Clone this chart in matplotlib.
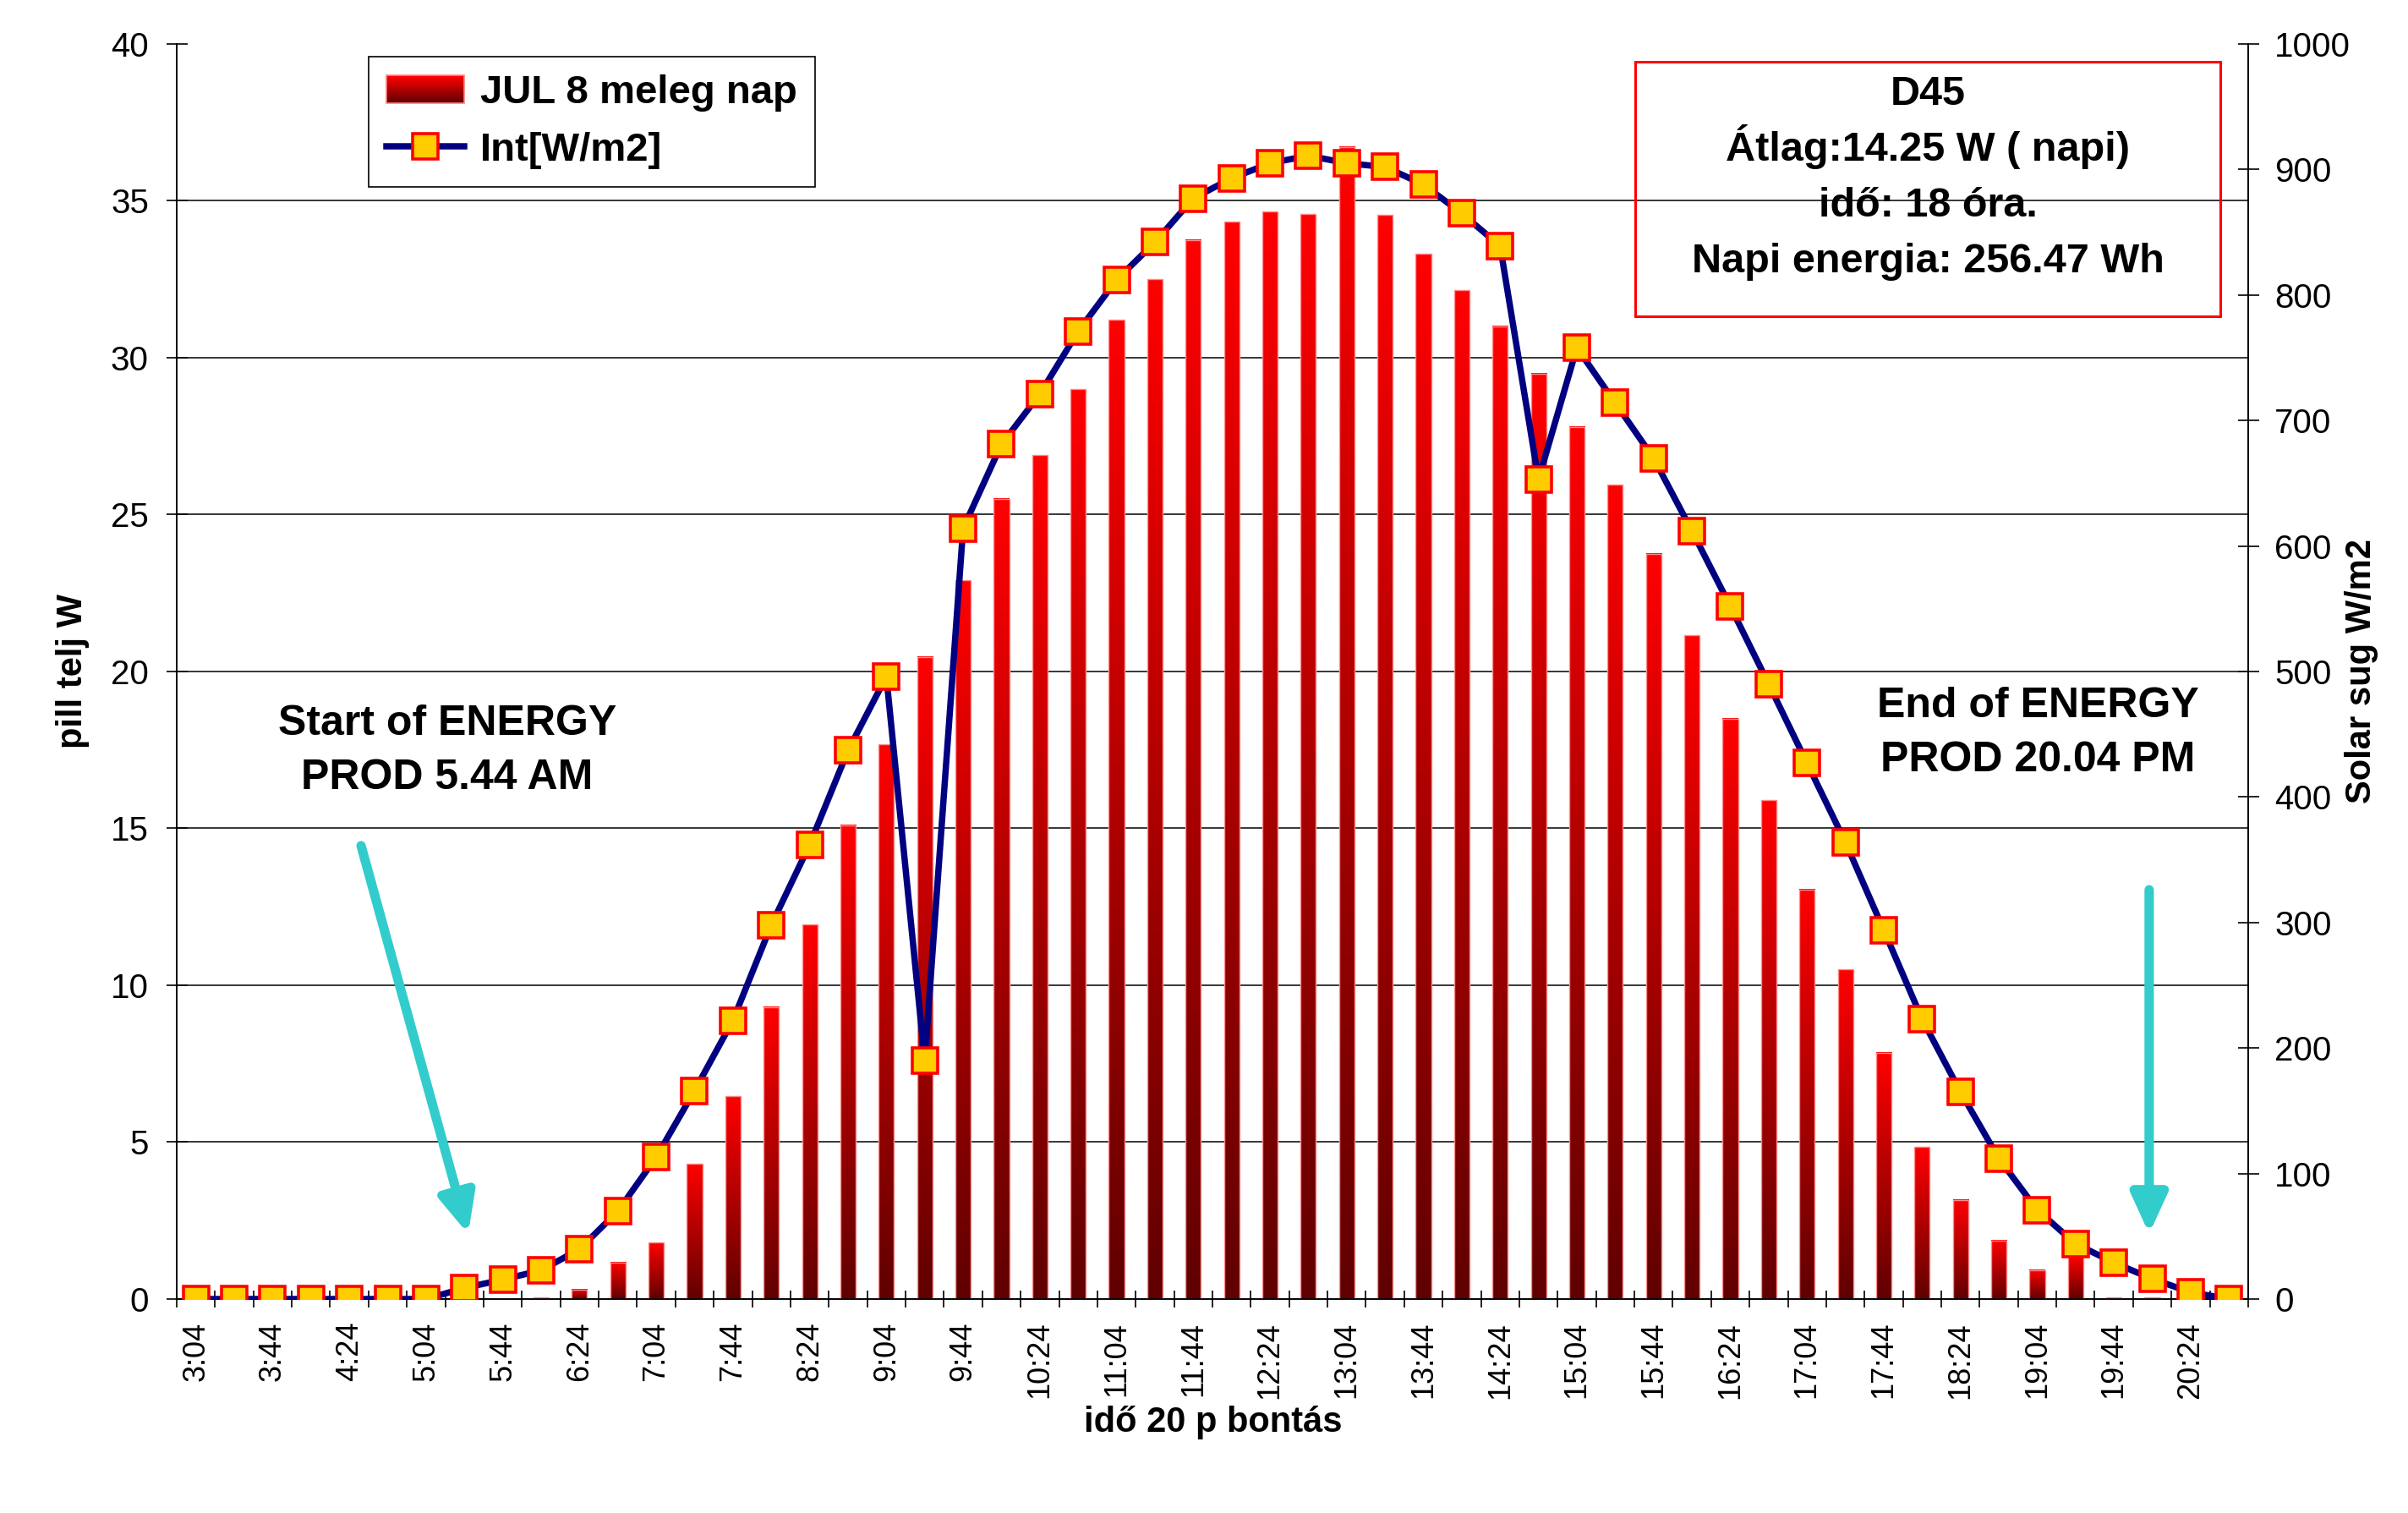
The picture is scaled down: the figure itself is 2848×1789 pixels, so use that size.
import numpy as np
import matplotlib
matplotlib.use('Agg')
import matplotlib.pyplot as plt
from matplotlib.colors import LinearSegmentedColormap
from matplotlib.patches import Rectangle, Patch
from matplotlib.legend_handler import HandlerBase

plt.rcParams['font.family'] = ['Liberation Sans', 'DejaVu Sans']

# 20 minute steps
times = ['3:04', '3:24', '3:44', '4:04', '4:24', '4:44', '5:04', '5:24', '5:44',
         '6:04', '6:24', '6:44', '7:04', '7:24', '7:44', '8:04', '8:24', '8:44',
         '9:04', '9:24', '9:44', '10:04', '10:24', '10:44', '11:04', '11:24', '11:44',
         '12:04', '12:24', '12:44', '13:04', '13:24', '13:44', '14:04', '14:24', '14:44',
         '15:04', '15:24', '15:44', '16:04', '16:24', '16:44', '17:04', '17:24', '17:44',
         '18:04', '18:24', '18:44', '19:04', '19:24', '19:44', '20:04', '20:24', '20:44']

# pill telj W (bars, left axis)
power = [0, 0, 0, 0, 0, 0, 0, 0, 0,
         0.05, 0.3, 1.16, 1.8, 4.3, 6.46, 9.3, 11.94, 15.1,
         17.67, 20.46, 22.9, 25.5, 26.9, 29.0, 31.2, 32.5, 33.75,
         34.33, 34.66, 34.58, 36.72, 34.55, 33.31, 32.15, 31.0, 29.5,
         27.8, 25.95, 23.75, 21.15, 18.5, 15.9, 13.05, 10.5, 7.85,
         4.85, 3.16, 1.87, 0.92, 1.37, 0.05, 0.05, 0, 0]

# Int[W/m2] (line, right axis)
irrad = [0, 0, 0, 0, 0, 0, 0, 8.8, 15.5,
         22.9, 39.7, 70, 113, 166, 222, 298, 362, 437,
         496, 190, 614, 681, 721, 771, 812, 842, 877,
         893, 905, 911, 905, 902, 888, 865, 839, 653,
         758, 714, 670, 612, 552, 490, 427, 364, 294,
         223, 165, 112, 71, 44, 29, 16, 5.4, 0]

left_ticks = [0, 5, 10, 15, 20, 25, 30, 35, 40]
right_ticks = [0, 100, 200, 300, 400, 500, 600, 700, 800, 900, 1000]

info_lines = ['D45', 'Átlag:14.25 W ( napi)', 'idő: 18 óra.', 'Napi energia: 256.47 Wh']

bar_cmap = LinearSegmentedColormap.from_list('bar', ['#600000', '#FF0000'])


class GradientHandler(HandlerBase):
    # legend swatch with the same dark->red fade as the bars
    def create_artists(self, legend, orig_handle, xdescent, ydescent,
                       width, height, fontsize, trans):
        arts = []
        n = 24
        for k in range(n):
            r = Rectangle((-xdescent, -ydescent + height * k / n), width, height / n * 1.05,
                          facecolor=bar_cmap(k / (n - 1)), edgecolor='none', transform=trans)
            arts.append(r)
        arts.append(Rectangle((-xdescent, -ydescent), width, height, fill=False,
                              edgecolor='#FF8080', lw=0.6, transform=trans))
        return arts


fig = plt.figure(figsize=(14.24, 8.945), dpi=200)
ax = fig.add_axes([0.07338, 0.14142, 0.86025, 0.82952])
ax2 = ax.twinx()

x = np.arange(len(times))
bw = 0.4

# gridlines (no line at the top)
for v in left_ticks[1:-1]:
    ax.axhline(v, color='black', lw=0.55, zorder=1)

grad = np.linspace(0, 1, 256).reshape(-1, 1)
for xi, h in zip(x, power):
    if h <= 0:
        continue
    ax.imshow(grad, extent=(xi - bw / 2, xi + bw / 2, 0, h), origin='lower',
              aspect='auto', cmap=bar_cmap, interpolation='bilinear', zorder=2)
ax.bar(x, power, width=bw, facecolor='none', edgecolor='#FF8A8A', lw=0.5, zorder=3)

line, = ax2.plot(x, irrad, color='#000080', lw=2.7, marker='s', markersize=10.5,
                 markerfacecolor='#FFCC00', markeredgecolor='#FF0000', markeredgewidth=1.3,
                 zorder=5)

ax.set_xlim(-0.5, 53.5)
ax.set_ylim(0, 40)
ax2.set_ylim(0, 1000)
ax.set_yticks(left_ticks)
ax2.set_yticks(right_ticks)

ax.set_xticks(x[::2])
ax.set_xticklabels(times[::2], rotation=90, fontsize=13)
ax.set_xticks(np.arange(-0.5, 54, 1), minor=True)
ax.tick_params(axis='x', which='major', length=0, pad=9.7)
ax.tick_params(axis='x', which='minor', direction='inout', length=7.2, width=0.6)
ax.tick_params(axis='y', direction='inout', length=9, width=0.6, pad=7.4, labelsize=14.5)
ax2.tick_params(axis='y', direction='inout', length=9, width=0.6, pad=6.7, labelsize=14.5)

for a in (ax, ax2):
    a.spines['top'].set_visible(False)
    for s in ('left', 'right', 'bottom'):
        a.spines[s].set_linewidth(0.6)

ax.set_ylabel('pill telj W', fontsize=15, fontweight='bold')
ax.yaxis.set_label_coords(-0.042, 0.5)
ax2.set_ylabel('Solar sug W/m2', fontsize=15, fontweight='bold')
ax2.yaxis.set_label_coords(1.0465, 0.5)
ax.set_xlabel('idő 20 p bontás', fontsize=15, fontweight='bold')
ax.xaxis.set_label_coords(0.5004, -0.0849)

# legend
bar_proxy = Patch()
leg = ax2.legend([bar_proxy, line], ['JUL 8 meleg nap', 'Int[W/m2]'],
                 handler_map={bar_proxy: GradientHandler()},
                 loc='upper left', bbox_to_anchor=(0.0927, 0.9899), borderaxespad=0,
                 prop={'size': 17, 'weight': 'bold'}, fancybox=False, framealpha=1,
                 edgecolor='black', borderpad=0.45, labelspacing=0.5,
                 handlelength=1.95, handletextpad=0.4)
leg.get_frame().set_linewidth(0.6)

# info box, one text per line so the spacing stays even
ax2.add_patch(Rectangle((0.7041, 0.7830), 0.2824, 0.2028, transform=ax2.transAxes,
                        fill=False, edgecolor='#FF0000', lw=1.1, zorder=6))
for k, txt in enumerate(info_lines):
    ax2.text(0.8453, 0.9515 - k * 0.0445, txt, transform=ax2.transAxes,
             ha='center', va='baseline', fontsize=17.5, fontweight='bold', zorder=6)

# start / end notes with arrows
ax2.text(0.1306, 0.4367, 'Start of ENERGY\nPROD 5.44 AM', transform=ax2.transAxes,
         ha='center', va='center', multialignment='center', fontsize=18,
         fontweight='bold', linespacing=1.52)
ax2.text(0.8984, 0.4508, 'End of ENERGY\nPROD 20.04 PM', transform=ax2.transAxes,
         ha='center', va='center', multialignment='center', fontsize=18,
         fontweight='bold', linespacing=1.52)

arrow_style = dict(arrowstyle='-|>,head_length=0.7,head_width=0.32', color='#33CCCC',
                   lw=4, mutation_scale=20, shrinkA=0, shrinkB=0)
ax2.annotate('', xy=(0.1407, 0.0519), xytext=(0.0890, 0.3612),
             xycoords='axes fraction', textcoords='axes fraction', arrowprops=arrow_style)
ax2.annotate('', xy=(0.9522, 0.0519), xytext=(0.9522, 0.3261),
             xycoords='axes fraction', textcoords='axes fraction', arrowprops=arrow_style)

fig.savefig('out.png', dpi=200)
